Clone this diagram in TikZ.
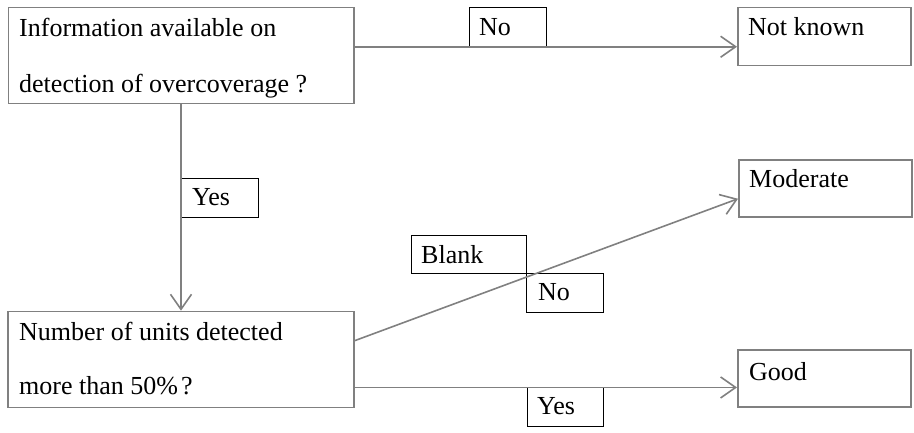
\documentclass[tikz,border=0pt]{standalone}
\usepackage{fontspec}
\setmainfont{Liberation Serif}
\usetikzlibrary{arrows.meta}
\definecolor{linegray}{RGB}{128,128,128}
\begin{document}
\begin{tikzpicture}[x=1pt,y=-1pt,
  mainbox/.style={draw=linegray, line width=1.5pt, rectangle, inner sep=0pt, anchor=north west},
  tagbox/.style={draw=black, line width=0.9pt, rectangle, inner sep=0pt, anchor=north west},
  txt/.style={inner sep=0pt, anchor=base west, font=\fontsize{26}{31}\selectfont},
  conn/.style={draw=linegray, line width=1.6pt, -{Straight Barb[length=15pt,width=21pt,line width=1.6pt]}}]
\useasboundingbox (0,0) rectangle (914,433);

% decision boxes
\node[mainbox, minimum width=345.5pt, minimum height=96pt] (q1) at (7.5,7) {};
\node[mainbox, minimum width=346pt, minimum height=96pt] (q2) at (7,310.7) {};
\node[txt] (q1a) at (19,37) {Information available on};
\node[txt] (q1b) at (19,93) {detection of overcoverage ?};
\node[txt] (q2a) at (19,340) {Number of units detected};
\node[txt] (q2b) at (19,394) {more than 50\%\kern3pt?};

% outcome boxes
\node[mainbox, minimum width=173pt, minimum height=58pt] (nk) at (737,7) {};
\node[mainbox, minimum width=173pt, minimum height=57pt] (mod) at (738,159.5) {};
\node[mainbox, minimum width=173pt, minimum height=57pt] (good) at (737,349) {};
\node[txt] (nkt) at (748,36) {Not known};
\node[txt] (modt) at (749,187.5) {Moderate};
\node[txt] (goodt) at (749,380) {Good};

% branch labels
\node[tagbox, minimum width=77pt, minimum height=39pt] (lno1) at (469,7) {};
\node[txt] at (479,36) {No};
\node[tagbox, minimum width=77pt, minimum height=39pt] (lyes1) at (181,178) {};
\node[txt] at (192,206) {Yes};
\node[tagbox, minimum width=115.5pt, minimum height=38pt] (lblank) at (410.5,235.3) {};
\node[txt] at (421,263.3) {Blank};
\node[tagbox, minimum width=77pt, minimum height=38.4pt] (lno2) at (526,273.3) {};
\node[txt] at (538,300.7) {No};
\node[tagbox, minimum width=76pt, minimum height=39pt] (lyes2) at (527,386.7) {};
\node[txt] at (537,414) {Yes};

% connectors
\draw[conn] ([yshift=9pt]q1.east) -- ([yshift=9pt]q1.east -| nk.west);
\draw[conn] (q1.south) -- (q1.south |- q2.north);
\draw[conn] ([yshift=18.7pt]q2.east) -- ([yshift=-10pt]mod.west);
\draw[conn] ([yshift=-9.2pt]good.west -| q2.east) -- ([yshift=-9.2pt]good.west);
\end{tikzpicture}
\end{document}
